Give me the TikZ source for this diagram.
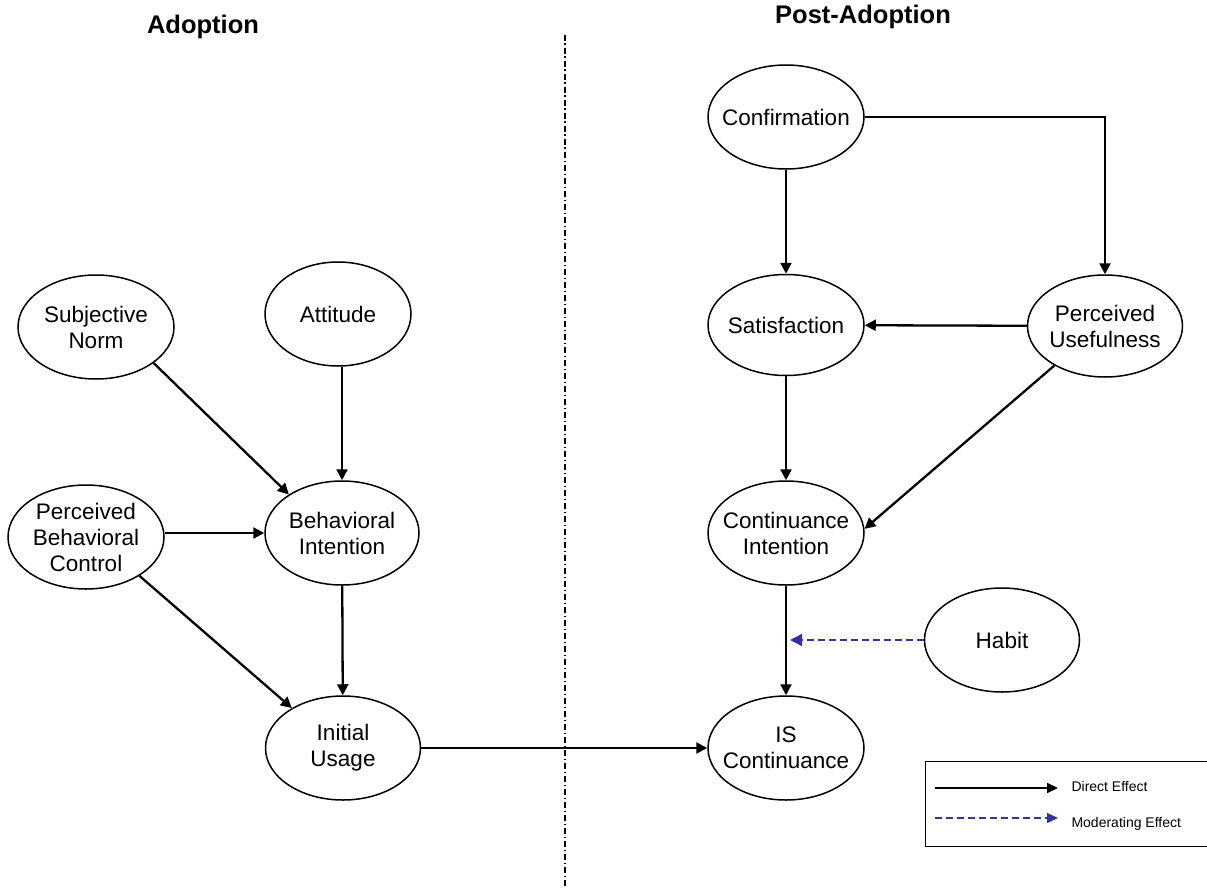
\documentclass[tikz,border=0pt]{standalone}
\usepackage{fontspec}
\setmainfont{Liberation Sans}
\usetikzlibrary{arrows.meta,shapes.geometric}
\definecolor{modblue}{RGB}{51,51,153}
\tikzset{
  construct/.style={ellipse,draw,line width=1.5pt,minimum width=156pt,minimum height=104pt,
    inner sep=0pt,label={[nodetext]center:#1}},
  nodetext/.style={align=center,font=\fontsize{22.5}{26}\selectfont,inner sep=0pt},
  effect/.style={line width=2.3pt,-{Triangle[length=11pt,width=11pt]}},
  moderate/.style={line width=1.6pt,modblue,dash pattern=on 7pt off 4pt,
    -{Triangle[length=12pt,width=12pt]}},
  phase/.style={font=\fontsize{25.5}{30}\selectfont\bfseries},
  legendtext/.style={font=\fontsize{14}{16}\selectfont,anchor=west}
}
\begin{document}
\begin{tikzpicture}[x=1pt,y=-1pt]
\useasboundingbox (0,0) rectangle (1207,888);

% phase titles and divider
\node[phase] (tadopt) at (203,27) {Adoption};
\node[phase] (tpost) at (863,17) {Post-Adoption};
\coordinate (divtop) at (565,35);
\coordinate (divbot) at (565,888);
\draw[line width=2pt,dash pattern=on 6pt off 2.5pt on 1.5pt off 3pt] (divtop) -- (divbot);

% adoption constructs
\node[construct={Subjective\\Norm}] (sn)  at (96,327) {};
\node[construct={Attitude},minimum width=146pt] (att) at (338,314) {};
\node[construct={Perceived\\Behavioral\\Control}] (pbc) at (86,537) {};
\node[construct={Behavioral\\Intention},minimum width=154pt] (bi) at (342,533) {};
\node[construct={Initial\\Usage},minimum width=155pt] (iu) at (343,748) {};

% post-adoption constructs
\node[construct={Confirmation}] (conf) at (786,117) {};
\node[construct={Satisfaction},minimum height=101pt] (sat) at (786,325) {};
\node[construct={Perceived\\Usefulness},minimum width=155pt,minimum height=102pt] (pu) at (1105,326) {};
\node[construct={Continuance\\Intention}] (ci) at (786,533) {};
\node[construct={Habit},minimum width=155pt] (habit) at (1002,640) {};
\node[construct={IS\\Continuance}] (isc) at (786,748) {};

% adoption effects
\draw[effect] (sn.-32) -- (bi.144);
\draw[effect] (bi.north |- att.south) -- (bi.north);
\draw[effect] (pbc.east |- bi.west) -- (bi.west);
\draw[effect] (pbc.-36) -- (iu.142);
\draw[effect] (bi) -- (iu);
\draw[effect] (iu.east |- isc.west) -- (isc.west);

% post-adoption effects
\draw[effect] (conf) -- (sat);
\draw[effect] (conf.east) -| (pu.north);
\draw[effect] (pu) -- (sat);
\draw[effect] (sat) -- (ci);
\draw[effect] (pu.-142) -- (ci.3);
\draw[effect] (ci) -- (isc);
\coordinate (modpt) at (790,640);
\draw[moderate] (habit.west) -- (modpt);

% legend
\node[draw,line width=1.3pt,minimum width=282pt,minimum height=85pt,inner sep=0pt,anchor=north west] (legend) at (925,761) {};
\coordinate (ls1) at (935,788);
\coordinate (le1) at (1058,788);
\coordinate (ls2) at (935,818);
\coordinate (le2) at (1058,818);
\draw[effect,line width=2pt,-{Triangle[length=11pt,width=10pt]}] (ls1) -- (le1);
\draw[moderate,line width=1.5pt,-{Triangle[length=11pt,width=10pt]}] (ls2) -- (le2);
\node[legendtext] (ld) at (1068,786) {Direct Effect};
\node[legendtext] (lm) at (1068,824) {Moderating Effect};
\end{tikzpicture}
\end{document}
